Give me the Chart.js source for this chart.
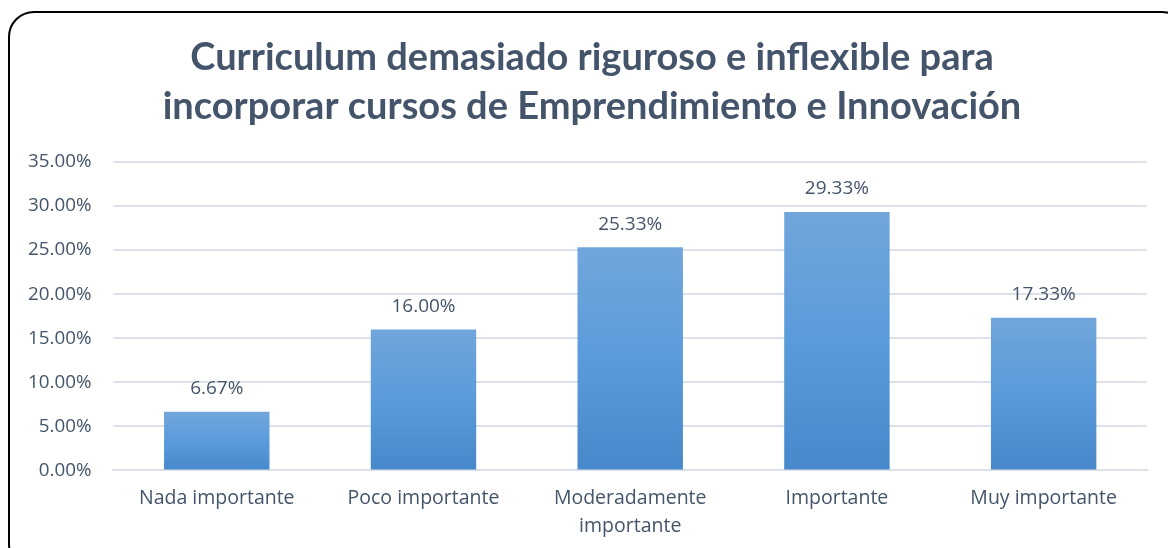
<!DOCTYPE html>
<html>
<head>
<meta charset="utf-8">
<script src="https://cdn.jsdelivr.net/npm/chart.js@4.4.1/dist/chart.umd.min.js"></script>
<style>
  html, body { margin: 0; padding: 0; background: #fff; }
  #wrap { position: relative; width: 1168px; height: 548px; overflow: hidden; }
  #frame { position: absolute; left: 8px; top: 11px; width: 1180px; height: 560px;
           border: 2px solid #000; border-radius: 26px; box-sizing: border-box; pointer-events: none; }
  canvas { position: absolute; left: 0; top: 0; }
</style>
</head>
<body>
<div id="wrap">
  <canvas id="c" width="1168" height="548"></canvas>
  <div id="frame"></div>
</div>
<script>
const titleLines = ["Curriculum demasiado riguroso e inflexible para", "incorporar cursos de Emprendimiento e Innovación"];
const categories = ["Nada importante", "Poco importante", ["Moderadamente", "importante"], "Importante", "Muy importante"];
const values = [6.67, 16.00, 25.33, 29.33, 17.33];
const yTicks = [0, 5, 10, 15, 20, 25, 30, 35];

const TITLE_FONT = "Lato, 'Open Sans', sans-serif";
const FONT = "'Open Sans', Lato, sans-serif";
const TEXT = "#44546A";

function barFill(ctx) {
  const chart = ctx.chart;
  const y = chart.scales && chart.scales.y;
  if (!chart.chartArea || !y || ctx.parsed === undefined) return "#5B9BD5";
  const top = y.getPixelForValue(ctx.parsed.y);
  const bottom = y.getPixelForValue(0);
  if (!isFinite(top) || !isFinite(bottom) || top === bottom) return "#5B9BD5";
  const g = chart.ctx.createLinearGradient(0, top, 0, bottom);
  g.addColorStop(0, "#71A6DB");
  g.addColorStop(0.5, "#5A9BDB");
  g.addColorStop(1, "#4788CA");
  return g;
}

const titlePlugin = {
  id: "centerTitle",
  afterDraw(chart) {
    const ctx = chart.ctx;
    ctx.save();
    ctx.font = "bold 38px " + TITLE_FONT;
    ctx.fillStyle = TEXT;
    ctx.textAlign = "center";
    ctx.textBaseline = "middle";
    titleLines.forEach((t, i) => ctx.fillText(t, 592, 58 + i * 49));
    ctx.restore();
  }
};

const labelPlugin = {
  id: "valueLabels",
  afterDatasetsDraw(chart) {
    const ctx = chart.ctx;
    const meta = chart.getDatasetMeta(0);
    ctx.save();
    ctx.font = "19px " + FONT;
    ctx.fillStyle = TEXT;
    ctx.textAlign = "center";
    ctx.textBaseline = "middle";
    meta.data.forEach((el, i) => {
      ctx.fillText(values[i].toFixed(2) + "%", el.x, el.y - 23);
    });
    ctx.restore();
  }
};

new Chart(document.getElementById("c"), {
  type: "bar",
  data: {
    labels: categories,
    datasets: [{
      data: values,
      backgroundColor: barFill,
      borderWidth: 0,
      barPercentage: 0.51,
      categoryPercentage: 1.0
    }]
  },
  options: {
    responsive: false,
    animation: false,
    devicePixelRatio: 1,
    layout: { padding: { left: 6, right: 21, top: 162, bottom: -7 } },
    plugins: {
      legend: { display: false },
      tooltip: { enabled: false },
      title: { display: false }
    },
    scales: {
      x: {
        grid: { display: false, drawTicks: false },
        border: { display: true, color: "#DDE2EA", width: 2 },
        ticks: { color: TEXT, font: { family: FONT, size: 19.5, lineHeight: 1.45 }, padding: 14, maxRotation: 0, autoSkip: false }
      },
      y: {
        min: 0, max: 35,
        afterBuildTicks(axis) { axis.ticks = yTicks.map(v => ({ value: v })); },
        grid: { color: "#DDE2EA", lineWidth: 2, drawTicks: false },
        border: { display: false },
        ticks: {
          color: TEXT,
          font: { family: FONT, size: 18.8 },
          padding: 22,
          callback: v => Number(v).toFixed(2) + "%"
        }
      }
    }
  },
  plugins: [labelPlugin, titlePlugin]
});
</script>
</body>
</html>
